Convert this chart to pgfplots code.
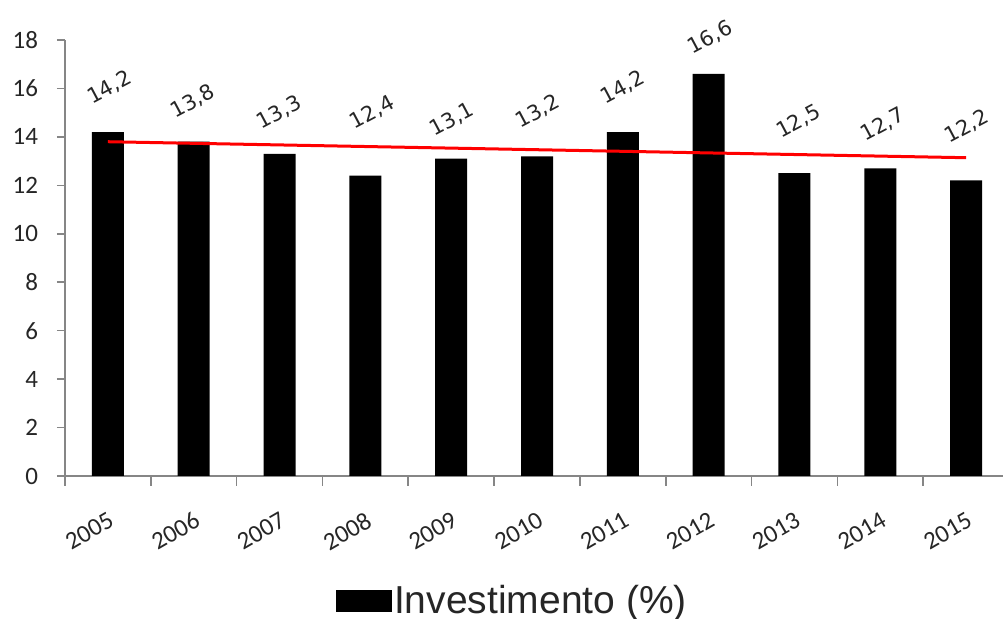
\documentclass[border=0pt]{standalone}
\usepackage{pgfplots}
\pgfplotsset{compat=1.18}
\usepackage{fontspec}
\setmainfont{Carlito}
\newfontfamily\arialfont{Liberation Sans}
\newfontfamily\valfont{DejaVu Sans}
\definecolor{axisgray}{HTML}{868686}
\definecolor{labelgray}{HTML}{262626}
\begin{document}
\begin{tikzpicture}
\begin{axis}[
  scale only axis, width=469pt, height=218pt,
  xmin=-0.5, xmax=10.43, ymin=0, ymax=18,
  axis x line=bottom, axis y line=left,
  axis line style={-, draw=axisgray, line width=1pt},
  ytick={0,2,...,18},
  xtick={0,1,2,3,4,5,6,7,8,9,10},
  xticklabels={2005,2006,2007,2008,2009,2010,2011,2012,2013,2014,2015},
  minor xtick={-0.5,0.5,1.5,2.5,3.5,4.5,5.5,6.5,7.5,8.5,9.5},
  tick align=outside,
  major x tick style={draw=none},
  minor x tick style={draw=axisgray, line width=0.8pt},
  major y tick style={draw=axisgray, line width=0.8pt},
  major tick length=4pt, minor tick length=5pt,
  /pgf/number format/assume math mode=true,
  ticklabel style={font=\fontsize{12.5}{14}\selectfont, text=labelgray},
  yticklabel style={xshift=-6pt},
  xticklabel style={rotate=30, anchor=north east, yshift=-8pt, xshift=-3.5pt},
  legend style={at={(0.477,-0.287)}, anchor=center, draw=none, fill=none,
    font=\arialfont\fontsize{19.5}{22}\selectfont, text=labelgray,
    nodes={inner xsep=1pt}},
  clip=false,
]
\addplot[ybar, bar width=16pt, fill=black, draw=none,
  legend image code/.code={\fill[black] (0pt,-5.5pt) rectangle (28pt,5.5pt);}
] coordinates {
  (0,14.2) (1,13.8) (2,13.3) (3,12.4) (4,13.1) (5,13.2)
  (6,14.2) (7,16.6) (8,12.5) (9,12.7) (10,12.2)
};
\addlegendentry{Investimento (\%)}
\addplot[red, line width=1.5pt, forget plot] coordinates {(0,13.80) (10,13.14)};
% value labels, placed where the reference shows them
\addplot[forget plot, only marks, mark=*, mark size=0pt, mark options={draw=none, fill=none},
  point meta=explicit,
  nodes near coords={\pgfmathprintnumber[use comma,fixed,fixed zerofill,precision=1]{\pgfplotspointmeta}},
  every node near coord/.append style={font=\valfont\fontsize{10.5}{12}\selectfont, text=labelgray, rotate=28, anchor=center, inner sep=0pt},
] coordinates {
  (0.02,16.03) [14.2]
  (0.99,15.45) [13.8]
  (2.00,15.00) [13.3]
  (3.08,15.00) [12.4]
  (4.01,14.71) [13.1]
  (5.01,15.04) [13.2]
  (6.00,16.03) [14.2]
  (7.02,18.10) [16.6]
  (8.05,14.63) [12.5]
  (9.03,14.50) [12.7]
  (10.01,14.42) [12.2]
};
\end{axis}
\pgfresetboundingbox
\useasboundingbox (-32.5pt,-71.5pt) rectangle (469pt,238pt);
\end{tikzpicture}
\end{document}
